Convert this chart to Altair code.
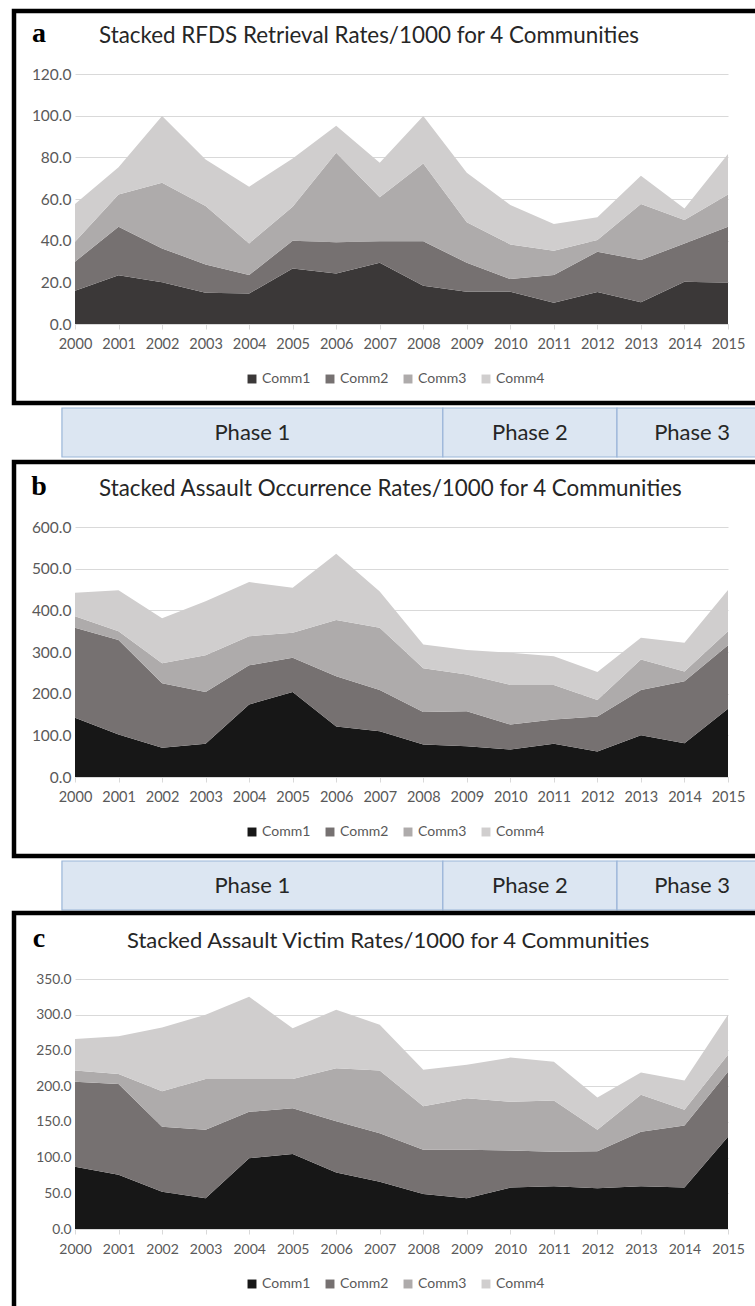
import altair as alt
import pandas as pd

years = list(range(2000, 2016))
communities = ["Comm1", "Comm2", "Comm3", "Comm4"]

# Panel a: RFDS retrieval rates /1000
a_comm1 = [16.0, 23.4, 20.0, 15.0, 14.6, 26.7, 24.3, 29.4, 18.4, 15.5, 15.5, 10.2, 15.4, 10.4, 20.3, 19.8]
a_comm2 = [13.9, 23.3, 16.3, 13.6, 8.9, 13.3, 14.9, 10.3, 21.3, 13.9, 6.1, 13.3, 19.3, 20.3, 18.4, 26.9]
a_comm3 = [9.6, 15.5, 31.5, 28.0, 15.2, 16.3, 43.0, 21.1, 37.4, 19.4, 16.6, 11.7, 5.6, 26.9, 11.2, 15.5]
a_comm4 = [18.1, 13.0, 32.0, 22.4, 27.2, 23.2, 13.0, 16.6, 22.7, 23.8, 18.9, 12.8, 10.9, 13.6, 5.6, 19.4]

# Panel b: assault occurrence rates /1000
b_comm1 = [142, 102, 70, 80, 174, 204, 121, 110, 78, 74, 66, 80, 61, 100, 81, 164]
b_comm2 = [216, 227, 155, 124, 94, 82, 121, 99, 78, 84, 60, 58, 84, 109, 149, 152]
b_comm3 = [28, 21, 48, 88, 70, 60, 135, 149, 105, 88, 95, 83, 40, 73, 23, 34]
b_comm4 = [56, 98, 108, 130, 130, 108, 159, 87, 57, 59, 77, 69, 67, 52, 69, 99]

# Panel c: assault victim rates /1000
c_comm1 = [87, 76, 52, 43, 99, 105, 79, 66, 49, 43, 58, 60, 57, 60, 58, 129]
c_comm2 = [119, 127, 91, 96, 65, 64, 72, 68, 62, 68, 52, 48, 52, 76, 87, 91]
c_comm3 = [16, 14, 50, 71, 46, 41, 74, 88, 61, 72, 68, 72, 30, 52, 22, 24]
c_comm4 = [44, 53, 89, 90, 115, 71, 82, 64, 51, 47, 62, 54, 45, 31, 41, 56]

titles = [
    "Stacked RFDS Retrieval Rates/1000 for 4 Communities",
    "Stacked Assault Occurrence Rates/1000 for 4 Communities",
    "Stacked Assault Victim Rates/1000 for 4 Communities",
]
letters = ["a", "b", "c"]

phase_names = ["Phase 1", "Phase 2", "Phase 3"]
phase_start = [1999.7, 2008.45, 2012.45]
phase_end = [2008.45, 2012.45, 2015.9]

W = 653
H = 1155
PANEL_H = 250
FONT = "Lato"
LABEL = "#595959"


def panel(series, colors, ymax, ystep, zero_px, title, letter, title_x, title_size,
          ylab_size, xlab_size, box_top, box_bottom, legend_y, phase_y=None):
    rows = []
    for k, (name, vals) in enumerate(zip(communities, series)):
        for yr, v in zip(years, vals):
            rows.append({"year": yr, "comm": name, "k": k, "value": v})
    df = pd.DataFrame(rows)

    box = alt.Chart(pd.DataFrame({"b": [0]})).mark_rect(
        fillOpacity=0, stroke="#000000", strokeWidth=4.5
    ).encode(x=alt.value(-61), x2=alt.value(740), y=alt.value(box_top), y2=alt.value(box_bottom))

    area = alt.Chart(df).mark_area(opacity=1).encode(
        x=alt.X("year:Q", scale=alt.Scale(domain=[2000, 2015], nice=False, zero=False),
                axis=alt.Axis(orient="bottom", offset=zero_px - H, values=years, format="d", title=None,
                              labelFont=FONT, labelFontSize=xlab_size, labelColor=LABEL,
                              labelFlush=False, labelOverlap=False, labelPadding=8,
                              grid=False, domainColor="#d9d9d9", tickColor="#d9d9d9", tickSize=5)),
        y=alt.Y("value:Q", stack="zero",
                scale=alt.Scale(domain=[0, ymax], range=[zero_px, zero_px - PANEL_H], nice=False),
                axis=alt.Axis(orient="left", values=list(range(0, ymax + 1, ystep)), format=".1f", title=None,
                              labelFont=FONT, labelFontSize=ylab_size, labelColor=LABEL, labelPadding=4,
                              grid=True, gridColor="#d9d9d9", domain=False, ticks=False, tickSize=0)),
        color=alt.Color("comm:N", scale=alt.Scale(domain=communities, range=colors),
                        legend=alt.Legend(orient="none", legendX=170, legendY=legend_y, direction="horizontal",
                                          columns=4, title=None, symbolType="square", symbolSize=80,
                                          symbolStrokeWidth=0, labelFont=FONT, labelFontSize=14,
                                          labelColor=LABEL, columnPadding=12, labelOffset=3)),
        order=alt.Order("k:Q", sort="ascending"),
    )

    tdf = pd.DataFrame({"t": [title], "l": [letter]})
    ttl = alt.Chart(tdf).mark_text(align="left", baseline="middle", font=FONT, fontSize=title_size,
                                   color="#262626").encode(x=alt.value(title_x), y=alt.value(zero_px - PANEL_H - 38),
                                                           text="t:N")
    let = alt.Chart(tdf).mark_text(align="center", baseline="middle", font="Liberation Serif", fontSize=28,
                                   fontWeight="bold", color="#000000").encode(
        x=alt.value(-36), y=alt.value(zero_px - PANEL_H - 40), text="l:N")

    layers = [area, box, ttl, let]

    if phase_y is not None:
        pdf = pd.DataFrame({"phase": phase_names, "start": phase_start, "end": phase_end})
        pdf["mid"] = (pdf["start"] + pdf["end"]) / 2
        xs = alt.Scale(domain=[2000, 2015], nice=False, zero=False)
        prect = alt.Chart(pdf).mark_rect(fill="#dce6f2", stroke="#9ab5d8", strokeWidth=1.2).encode(
            x=alt.X("start:Q", scale=xs, axis=None), x2="end:Q",
            y=alt.value(phase_y), y2=alt.value(phase_y + 49))
        ptxt = alt.Chart(pdf).mark_text(font=FONT, fontSize=22, color="#262626", baseline="middle").encode(
            x=alt.X("mid:Q", scale=xs, axis=None), y=alt.value(phase_y + 25), text="phase:N")
        layers += [prect, ptxt]
    return layers


dark_a = ["#3b3838", "#767171", "#aeabab", "#d0cece"]
dark_bc = ["#171717", "#767171", "#aeabab", "#d0cece"]

layers = []
layers += panel([a_comm1, a_comm2, a_comm3, a_comm4], dark_a, 120, 20, 250, titles[0], letters[0], 24, 22.4,
                15.5, 14.5, -63, 329, 298, phase_y=334)
layers += panel([b_comm1, b_comm2, b_comm3, b_comm4], dark_bc, 600, 100, 703, titles[1], letters[1], 24, 22.4,
                15.5, 14.5, 388, 782, 751, phase_y=787)
layers += panel([c_comm1, c_comm2, c_comm3, c_comm4], dark_bc, 350, 50, 1155, titles[2], letters[2], 52, 22,
                13.8, 14, 839, 1260, 1203)

chart = alt.layer(*layers).resolve_scale(
    x="independent", y="independent", color="independent"
).properties(
    width=W, height=H,
    padding={"left": 75, "top": 74, "right": 27, "bottom": 77},
    autosize=alt.AutoSizeParams(type="none"),
    background="#ffffff",
).configure_view(stroke=None)

chart.save("out.html", embed_options={"renderer": "svg", "actions": False})
